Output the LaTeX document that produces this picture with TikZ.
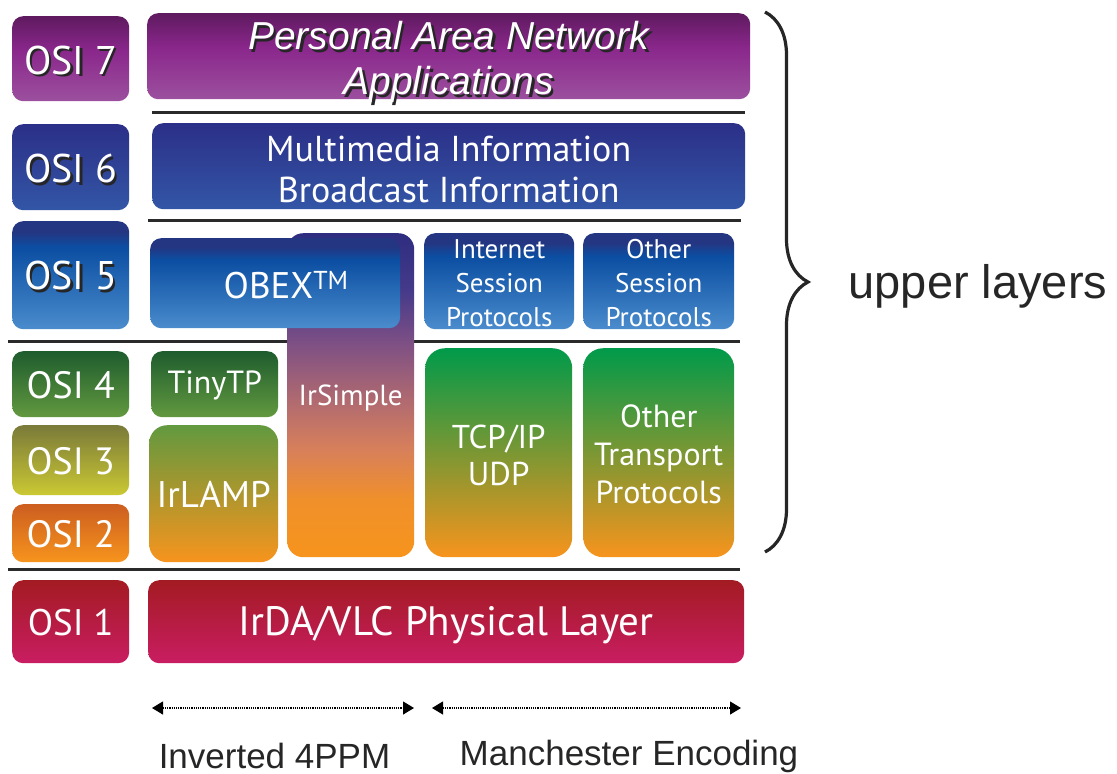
\documentclass[tikz,border=0pt]{standalone}
\usepackage{fontspec}
\setmainfont{PT Sans}
\newfontfamily\arialf{Liberation Sans}
\usetikzlibrary{arrows.meta,decorations.pathreplacing}
\definecolor{sepc}{HTML}{2A2A2A}
% purple
\definecolor{puA}{HTML}{5E1A5F}\definecolor{puB}{HTML}{8A278C}\definecolor{puC}{HTML}{9C509E}
% blue (layer 6)
\definecolor{b6A}{HTML}{2B2F87}\definecolor{b6B}{HTML}{3356A6}
% session blue
\definecolor{ssA}{HTML}{243682}\definecolor{ssB}{HTML}{0B4EA2}\definecolor{ssC}{HTML}{4A8CCC}
% greens etc
\definecolor{g4A}{HTML}{1E5C2E}\definecolor{g4B}{HTML}{62993F}
\definecolor{o3A}{HTML}{7A7A3A}\definecolor{o3B}{HTML}{CBC933}
\definecolor{o2A}{HTML}{CC5E20}\definecolor{orng}{HTML}{F7941D}
\definecolor{tcpA}{HTML}{009A4A}
\definecolor{rdA}{HTML}{A31B22}\definecolor{rdB}{HTML}{C91D62}
% irsimple
\definecolor{isA}{HTML}{F7941D}\definecolor{isB}{HTML}{F0902A}\definecolor{isC}{HTML}{D8805A}
\definecolor{isD}{HTML}{B06A70}\definecolor{isE}{HTML}{7C4F85}\definecolor{isF}{HTML}{453A8A}
\definecolor{isG}{HTML}{2E2D80}
\pgfdeclareverticalshading{irsimpleshade}{100bp}{color(0bp)=(isA); color(25bp)=(isA); color(33.8bp)=(isB); color(41.5bp)=(isC); color(49.2bp)=(isD); color(58.3bp)=(isE); color(66.2bp)=(isF); color(75bp)=(isG); color(100bp)=(isG)}
\pgfdeclareverticalshading{sessshade}{100bp}{color(0bp)=(ssC); color(25bp)=(ssC); color(63bp)=(ssB); color(70bp)=(ssA); color(75bp)=(ssA); color(100bp)=(ssA)}
\pgfdeclareverticalshading{purpleshade}{100bp}{color(0bp)=(puC); color(25bp)=(puC); color(55bp)=(puB); color(75bp)=(puA); color(100bp)=(puA)}
\newcommand\shd[1]{\makebox[0pt][l]{\hspace{2.5pt}\raisebox{-2.5pt}{\color{black!85}#1}}#1}
\begin{document}
\begin{tikzpicture}[x=1pt,y=-1pt,
  box/.style={rounded corners=11pt, inner sep=0pt, anchor=north west},
  txt/.style={inner sep=0pt, text=white, align=center},
  sepline/.style={line width=3pt, draw=sepc},
  dotarr/.style={densely dotted, line width=1.2pt, {Triangle[length=11pt,width=13pt]}-{Triangle[length=11pt,width=13pt]}},
  fs/.style={font=\fontsize{#1}{1.2*#1}\selectfont}
]
\fill[white] (0,0) rectangle (1117,774);
\useasboundingbox (0,0) rectangle (1117,774);

% separator lines
\coordinate (l1a) at (152,112); \coordinate (l1b) at (745,112);
\coordinate (l2a) at (148,220); \coordinate (l2b) at (741,220);
\coordinate (l3a) at (8,341);   \coordinate (l3b) at (740,341);
\coordinate (l4a) at (8,569);   \coordinate (l4b) at (740,569);
\draw[sepline] (l1a) -- (l1b);
\draw[sepline] (l2a) -- (l2b);
\draw[sepline] (l3a) -- (l3b);
\draw[sepline] (l4a) -- (l4b);

% OSI column
\node[box, shading=purpleshade, minimum width=117pt, minimum height=85pt] (osi7) at (12,16) {};
\node[box, top color=b6A, bottom color=b6B, minimum width=117pt, minimum height=86pt] (osi6) at (12,124) {};
\node[box, shading=sessshade, minimum width=117pt, minimum height=108pt] (osi5) at (12,221) {};
\node[box, top color=g4A, bottom color=g4B, minimum width=117pt, minimum height=66pt] (osi4) at (12,351) {};
\node[box, top color=o3A, bottom color=o3B, minimum width=117pt, minimum height=70pt] (osi3) at (12,425) {};
\node[box, top color=o2A, bottom color=orng, minimum width=117pt, minimum height=58pt] (osi2) at (12,504) {};
\node[box, top color=rdA, bottom color=rdB, minimum width=117pt, minimum height=83pt] (osi1) at (12,580) {};
\node[txt, font=\fontsize{40}{40}\selectfont] (t7) at ([yshift=-3pt]osi7.center) {\shd{OSI 7}};
\node[txt, font=\fontsize{40}{40}\selectfont] (t6) at ([yshift=-3pt]osi6.center) {\shd{OSI 6}};
\node[txt, font=\fontsize{40}{40}\selectfont] (t5) at ([yshift=-2pt]osi5.center) {\shd{OSI 5}};
\node[txt, font=\fontsize{38}{40}\selectfont] (t4) at ([yshift=-1pt]osi4.center) {OSI 4};
\node[txt, font=\fontsize{38}{40}\selectfont] (t3) at ([yshift=-1pt]osi3.center) {OSI 3};
\node[txt, font=\fontsize{38}{40}\selectfont] (t2) at ([yshift=-1pt]osi2.center) {OSI 2};
\node[txt, font=\fontsize{37}{40}\selectfont] (t1) at ([yshift=-1pt]osi1.center) {OSI 1};

% layer 7
\node[box, shading=purpleshade, minimum width=603pt, minimum height=86pt] (pan) at (147,13) {};
\node[txt, font=\arialf\itshape\fontsize{39}{45}\selectfont] (tpan) at ([yshift=-7pt]pan.center) {\shd{Personal Area Network}\\\shd{Applications}};
% layer 6
\node[box, top color=b6A, bottom color=b6B, minimum width=593pt, minimum height=86pt] (mm) at (152,123) {};
\node[txt, font=\fontsize{36}{41}\selectfont] (tmm) at ([yshift=-3pt]mm.center) {Multimedia Information\\Broadcast Information};
% layer 5 / IrSimple
\node[box, rounded corners=16pt, shading=irsimpleshade, minimum width=127pt, minimum height=324pt] (irs) at (287,233) {};
\node[txt, font=\fontsize{29}{34}\selectfont] (tirs) at ([yshift=-3pt]irs.center) {IrSimple};
\node[box, shading=sessshade, minimum width=250pt, minimum height=90pt] (obex) at (150,238) {};
\node[txt, font=\fontsize{37}{40}\selectfont] (tobex) at ([xshift=11pt,yshift=-2pt]obex.center) {OBEX\textsuperscript{TM}};
\node[box, shading=sessshade, minimum width=150pt, minimum height=96pt] (isp) at (424,233) {};
\node[txt, font=\fontsize{27}{34}\selectfont] (tisp) at ([yshift=-2pt]isp.center) {Internet\\Session\\Protocols};
\node[box, shading=sessshade, minimum width=151pt, minimum height=96pt] (osp) at (583,233) {};
\node[txt, font=\fontsize{27}{34}\selectfont] (tosp) at ([yshift=-2pt]osp.center) {Other\\Session\\Protocols};
% layers 2-4
\node[box, top color=g4A, bottom color=g4B, minimum width=127pt, minimum height=66pt] (tiny) at (151,351) {};
\node[txt, font=\fontsize{32}{38}\selectfont] (ttiny) at ([yshift=-1pt]tiny.center) {TinyTP};
\node[box, rounded corners=18pt, top color=g4B, bottom color=orng, minimum width=129pt, minimum height=137pt] (lamp) at (149,425) {};
\node[txt, font=\fontsize{37}{40}\selectfont] (tlamp) at ([yshift=-1pt]lamp.center) {IrLAMP};
\node[box, rounded corners=20pt, top color=tcpA, bottom color=orng, minimum width=147pt, minimum height=209pt] (tcp) at (425,348) {};
\node[txt, font=\fontsize{33}{37}\selectfont] (ttcp) at ([yshift=-3pt]tcp.center) {TCP/IP\\UDP};
\node[box, rounded corners=20pt, top color=tcpA, bottom color=orng, minimum width=151pt, minimum height=209pt] (otp) at (583,348) {};
\node[txt, font=\fontsize{32}{38}\selectfont] (totp) at ([yshift=-2pt]otp.center) {Other\\Transport\\Protocols};
% layer 1
\node[box, top color=rdA, bottom color=rdB, minimum width=596pt, minimum height=83pt] (phy) at (148,580) {};
\node[txt, font=\fontsize{41}{40}\selectfont] (tphy) at ([yshift=-3pt]phy.center) {IrDA/VLC Physical Layer};

% arrows
\coordinate (a1) at (152,708); \coordinate (a2) at (414,708);
\coordinate (b1) at (432,708); \coordinate (b2) at (741,708);
\draw[dotarr] (a1) -- (a2);
\draw[dotarr] (b1) -- (b2);
\node[font=\arialf\fontsize{35}{40}\selectfont, text=black!85] (inv) at (274.5,756) {Inverted 4PPM};
\node[font=\arialf\fontsize{35}{40}\selectfont, text=black!85] (man) at (629,756) {Manchester Encoding};

% brace
\coordinate (br1) at (765,12); \coordinate (br2) at (765,552);
\draw[line width=3.2pt, black!85, decorate, decoration={brace, amplitude=43pt}] (br1) -- (br2);
\node[font=\arialf\fontsize{47}{50}\selectfont, text=black!85] (upper) at (978,286) {upper layers};
\end{tikzpicture}
\end{document}
